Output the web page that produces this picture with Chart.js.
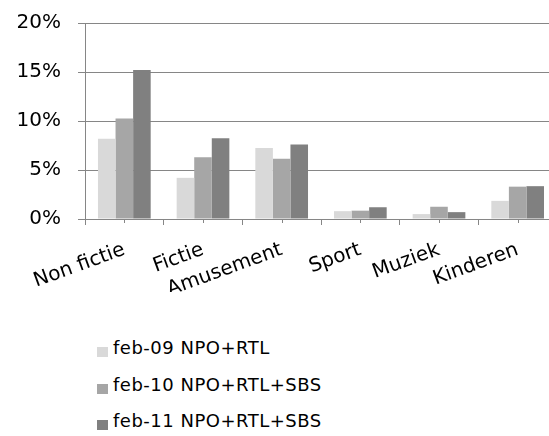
<!DOCTYPE html>
<html>
<head>
<meta charset="utf-8">
<script src="https://cdn.jsdelivr.net/npm/chart.js@4/dist/chart.umd.min.js"></script>
<style>
  html,body{margin:0;padding:0;background:#fff;overflow:hidden;}
  body{width:549px;height:436px;position:relative;}
  #wrap{position:absolute;left:0;top:0;width:560px;height:292px;}
  #legend{position:absolute;left:97px;top:337px;font-family:"DejaVu Sans",Verdana,sans-serif;font-size:18px;letter-spacing:0.5px;color:#000;}
  #legend div{height:36.5px;display:flex;align-items:flex-start;}
  #legend span.box{display:inline-block;width:11px;height:10px;margin:10px 5px 0 0;}
</style>
</head>
<body>
<div id="wrap"><canvas id="chart"></canvas></div>
<div id="legend"></div>
<script>
// data
const categories = ['Non fictie','Fictie','Amusement','Sport','Muziek','Kinderen'];
const seriesNames = ['feb-09 NPO+RTL','feb-10 NPO+RTL+SBS','feb-11 NPO+RTL+SBS'];
const feb09 = [8.2, 4.2, 7.25, 0.8, 0.5, 1.85];
const feb10 = [10.25, 6.3, 6.15, 0.85, 1.25, 3.3];
const feb11 = [15.2, 8.25, 7.6, 1.2, 0.7, 3.35];
const yTicks = [0, 5, 10, 15, 20];
const colors = ['#d9d9d9','#a6a6a6','#808080'];

const font = {family:'"DejaVu Sans", Verdana, sans-serif', size:20};
const axisGray = '#868686';

// small tick marks at the category centres too
const midTicks = {
  id:'midTicks',
  afterDraw(chart){
    const x = chart.scales.x, ctx = chart.ctx;
    ctx.save();
    ctx.strokeStyle = axisGray;
    ctx.lineWidth = 1;
    categories.forEach((c,i)=>{
      const px = Math.round(x.getPixelForValue(i)) + 0.5;
      ctx.beginPath();
      ctx.moveTo(px, x.top);
      ctx.lineTo(px, x.top + 4);
      ctx.stroke();
    });
    ctx.restore();
  }
};

const chart = new Chart(document.getElementById('chart'),{
  type:'bar',
  data:{
    labels:categories,
    datasets:[feb09,feb10,feb11].map((d,i)=>({
      label:seriesNames[i], data:d, backgroundColor:colors[i],
      categoryPercentage:0.67, barPercentage:1.0
    }))
  },
  options:{
    responsive:true, maintainAspectRatio:false, animation:false,
    layout:{padding:{top:23,right:3,left:0,bottom:0}},
    plugins:{legend:{display:false}, tooltip:{enabled:false}},
    scales:{
      x:{
        grid:{display:true, offset:true, drawOnChartArea:false, color:axisGray, tickLength:6},
        border:{color:axisGray, width:1},
        ticks:{font:font, color:'#000', autoSkip:false, minRotation:20, maxRotation:20, padding:13},
        afterFit(s){ s.height = 73; }
      },
      y:{
        min:0, max:20,
        afterBuildTicks(s){ s.ticks = yTicks.map(v=>({value:v})); },
        grid:{color:axisGray, tickLength:7},
        border:{color:axisGray, width:1},
        ticks:{font:font, color:'#000', padding:17, callback:v=>v+'%'},
        afterFit(s){ s.width = 85; s.paddingTop = 0; s.paddingBottom = 0; }
      }
    }
  },
  plugins:[midTicks]
});

// legend as plain text rows
const lg = document.getElementById('legend');
seriesNames.forEach((n,i)=>{
  const row = document.createElement('div');
  row.innerHTML = `<span class="box" style="background:${colors[i]}"></span><span>${n}</span>`;
  lg.appendChild(row);
});
</script>
</body>
</html>
